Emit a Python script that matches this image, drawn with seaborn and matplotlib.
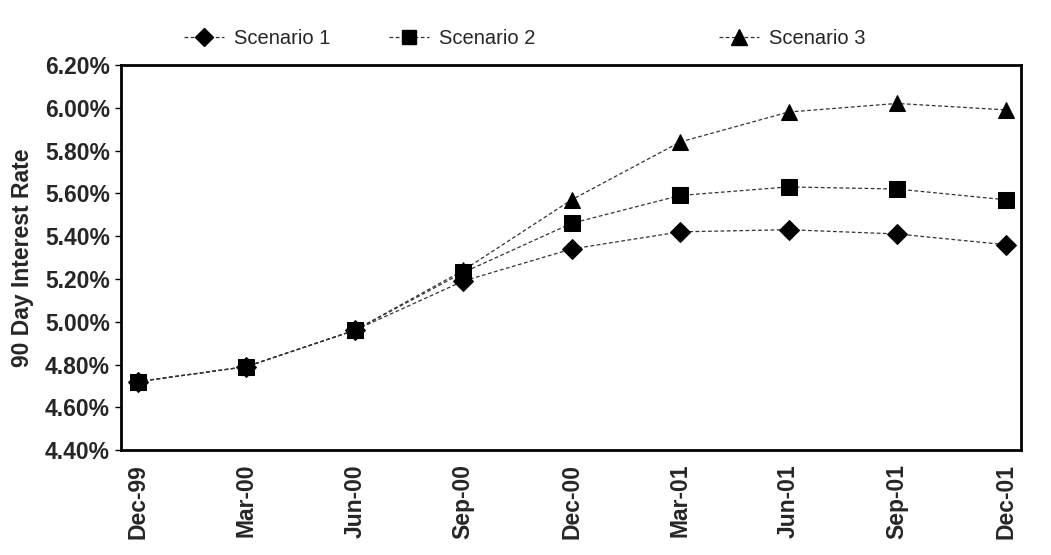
import matplotlib
matplotlib.use("Agg")
import matplotlib.pyplot as plt
import seaborn as sns
import pandas as pd
from matplotlib.lines import Line2D

dates = ["Dec-99", "Mar-00", "Jun-00", "Sep-00", "Dec-00", "Mar-01", "Jun-01", "Sep-01", "Dec-01"]
scenario1 = [4.72, 4.79, 4.96, 5.19, 5.34, 5.42, 5.43, 5.41, 5.36]
scenario2 = [4.72, 4.79, 4.96, 5.23, 5.46, 5.59, 5.63, 5.62, 5.57]
scenario3 = [4.72, 4.79, 4.96, 5.24, 5.57, 5.84, 5.98, 6.02, 5.99]
series_names = ["Scenario 1", "Scenario 2", "Scenario 3"]
yticks = [4.40, 4.60, 4.80, 5.00, 5.20, 5.40, 5.60, 5.80, 6.00, 6.20]

rows = []
for name, vals in zip(series_names, [scenario1, scenario2, scenario3]):
    for d, v in zip(dates, vals):
        rows.append({"Date": d, "Rate": v, "Scenario": name})
df = pd.DataFrame(rows)

sns.set_theme(style="white")
plt.rcParams["font.family"] = ["Liberation Sans", "DejaVu Sans"]

fig = plt.figure(figsize=(10.51, 5.55), dpi=100)
ax = fig.add_axes([0.115, 0.189, 0.856, 0.694])

markers = {"Scenario 1": "D", "Scenario 2": "s", "Scenario 3": "^"}
sizes = {"Scenario 1": 10, "Scenario 2": 11, "Scenario 3": 12}
# draw order so the square sits on top where the series coincide
for name in ["Scenario 3", "Scenario 1", "Scenario 2"]:
    sub = df[df["Scenario"] == name]
    sns.lineplot(data=sub, x="Date", y="Rate", ax=ax, sort=False,
                 color="#333333", linewidth=0.9, linestyle=(0, (3, 2)),
                 marker=markers[name], markersize=sizes[name],
                 markerfacecolor="black", markeredgecolor="black", legend=False)

ax.set_xlim(-0.157, 8.138)
ax.set_ylim(4.40, 6.20)
ax.set_yticks(yticks)
ax.set_yticklabels([f"{t:.2f}%" for t in yticks], fontsize=16.5, fontweight="bold")
ax.set_xticks(range(len(dates)))
ax.set_xticklabels(dates, rotation=90, fontsize=16.5, fontweight="bold")
ax.set_xlabel("")
ax.set_ylabel("90 Day Interest Rate", fontsize=16.5, fontweight="bold", labelpad=8)
ax.tick_params(axis="y", which="both", left=True, length=4, width=1, color="black", pad=4)
ax.tick_params(axis="x", bottom=False, pad=4)
for s in ax.spines.values():
    s.set_visible(True)
    s.set_color("black")
    s.set_linewidth(2)
ax.grid(False)

# legend entries placed individually along the top
anchors = [(0.245, 0.931), (0.440, 0.931), (0.754, 0.931)]
for name, anc in zip(series_names, anchors):
    h = Line2D([], [], color="#333333", linewidth=0.9, linestyle=(0, (3, 2)),
               marker=markers[name], markersize=sizes[name] - 1,
               markerfacecolor="black", markeredgecolor="black")
    fig.legend([h], [name], loc="center", bbox_to_anchor=anc, frameon=False,
               fontsize=14.5, handlelength=2.0, handletextpad=0.5, borderpad=0)

fig.savefig("out.png", dpi=100, facecolor="white")
